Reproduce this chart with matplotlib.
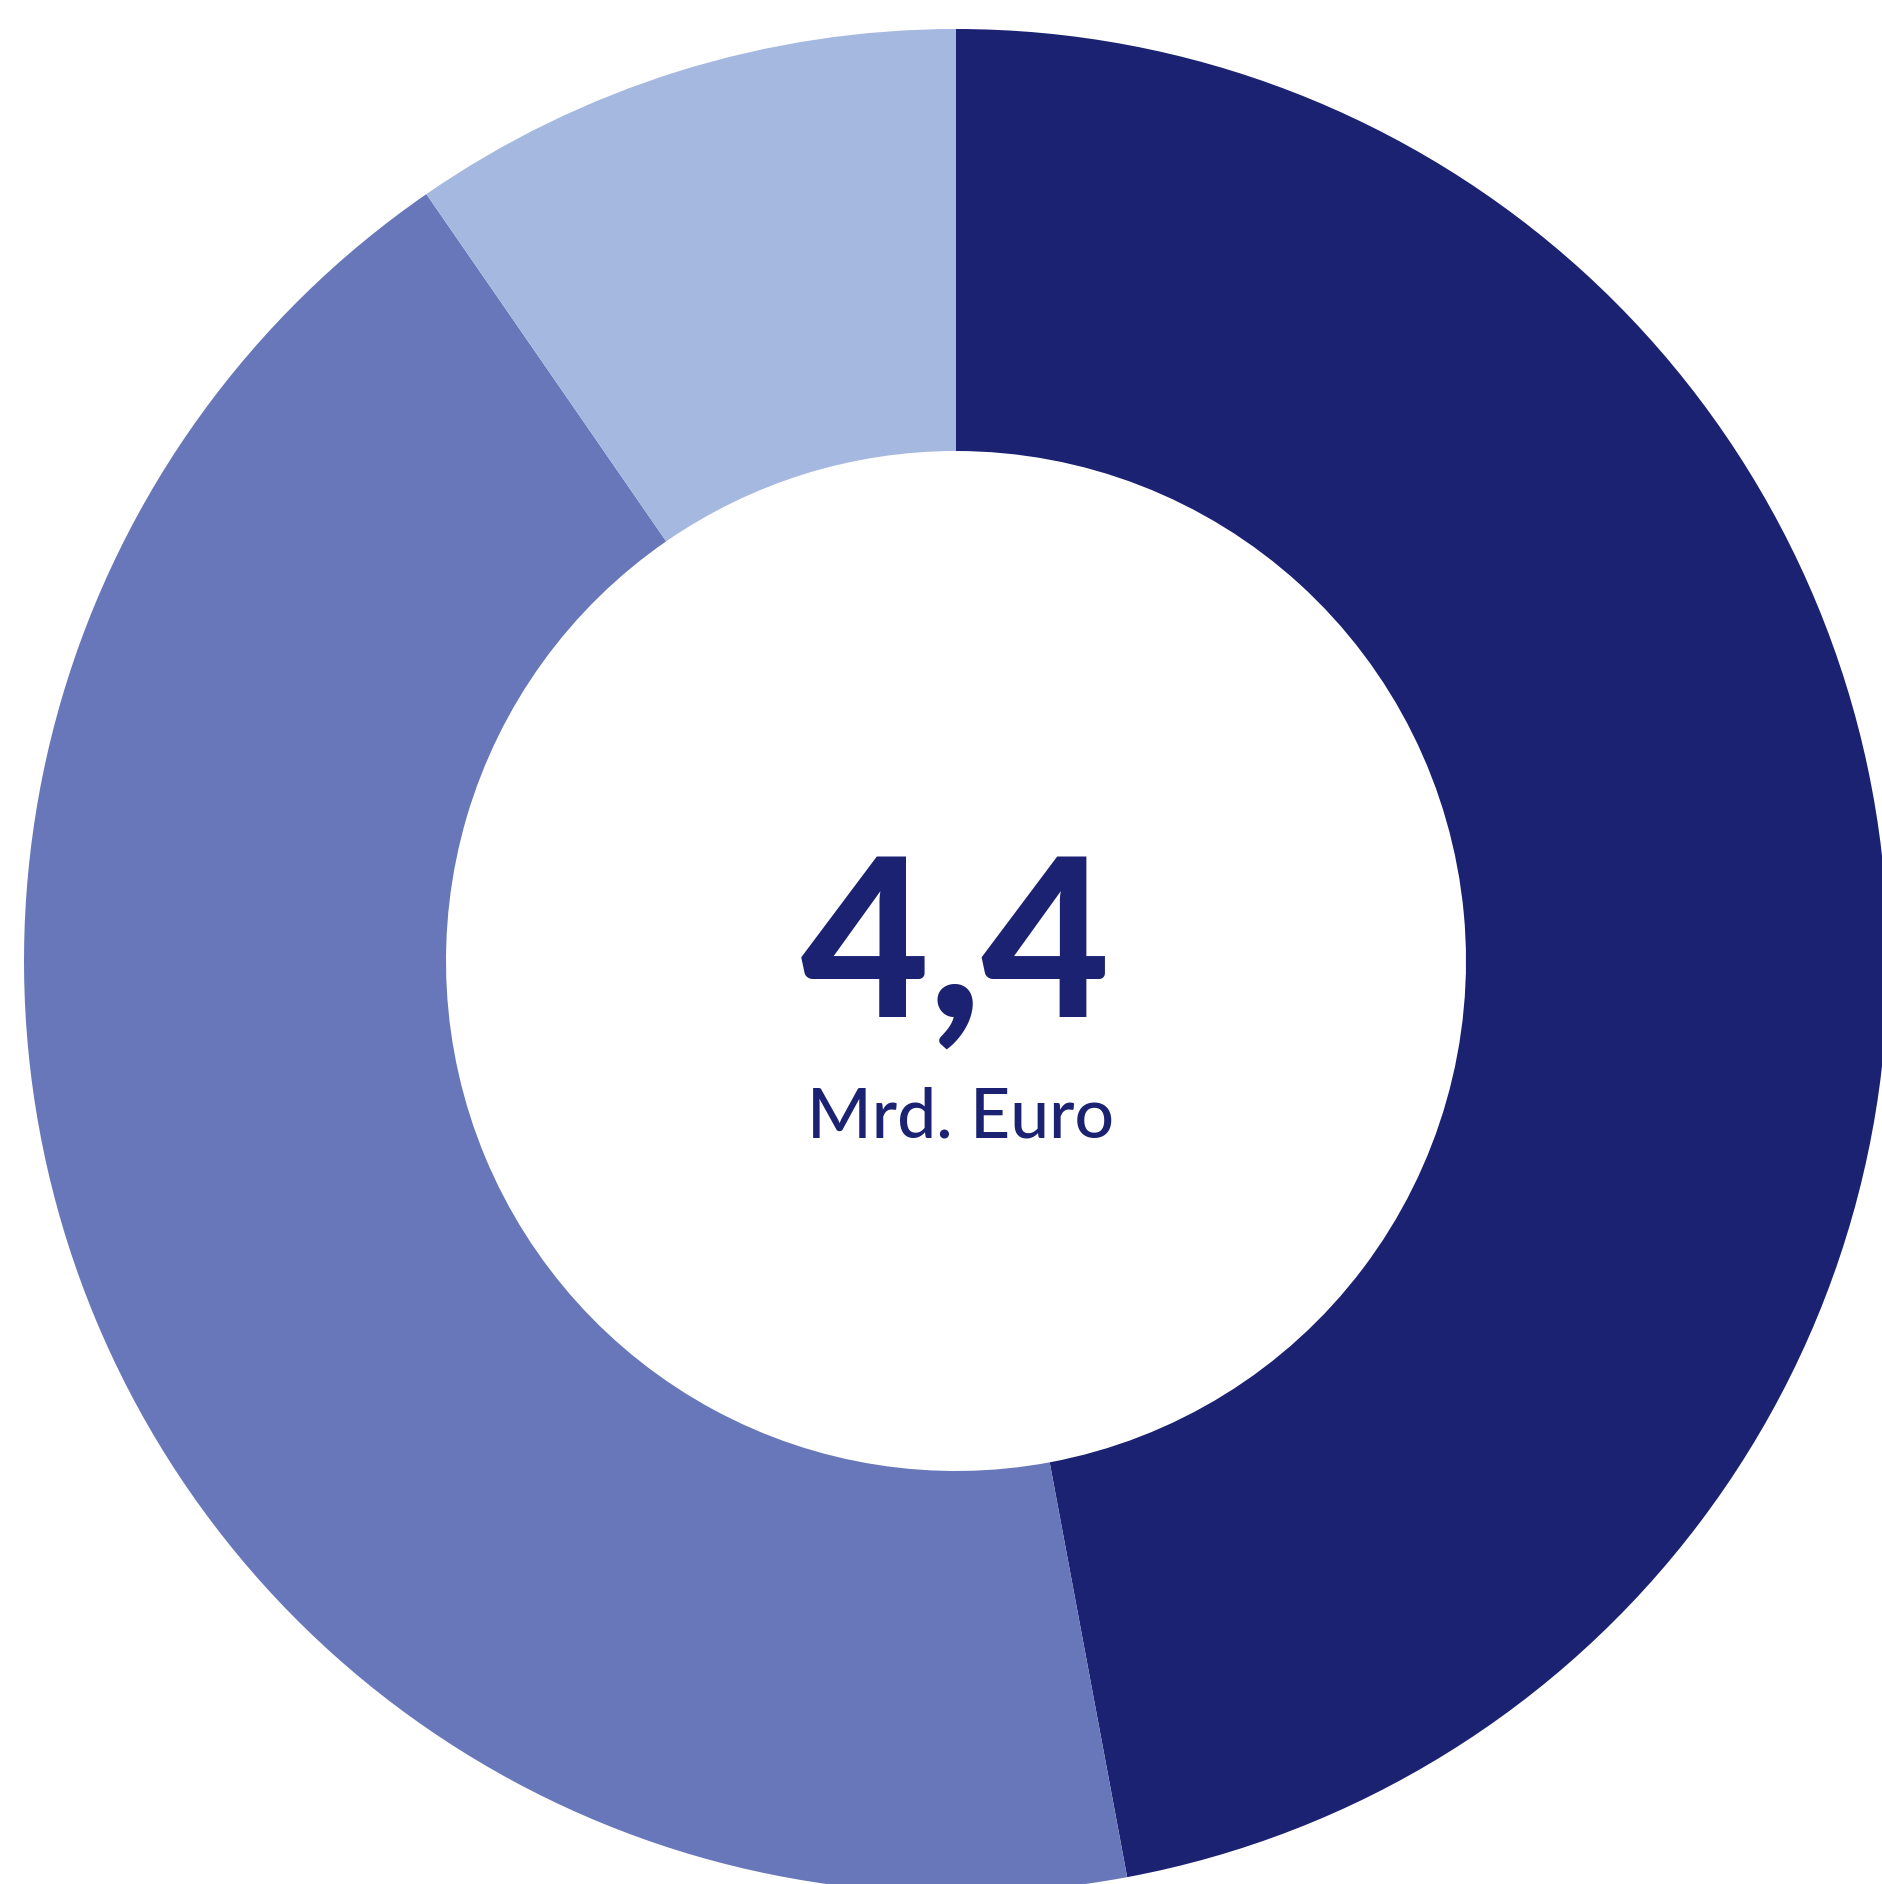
import matplotlib.pyplot as plt

labels = ['A', 'B', 'C']
shares = [47.06, 43.32, 9.62]
colors = ['#1B2272', '#6877B9', '#A5B8DF']

total_text = '4,4'
unit_text = 'Mrd. Euro'

W, H = 1883, 1884
cx, cy, R = 956, 961, 932  # ring centre and outer radius in pixels

fig = plt.figure(figsize=(W / 100, H / 100), dpi=100)
ax = fig.add_axes([0, 0, 1, 1])

ax.pie(shares, colors=colors, startangle=90, counterclock=False,
       radius=1.0, wedgeprops=dict(width=1 - 510 / R, linewidth=0))

ax.set_xlim(-cx / R, (W - cx) / R)
ax.set_ylim(-(H - cy) / R, cy / R)
ax.set_aspect('equal')
ax.axis('off')

navy = '#1B2272'
ax.text(0.0, (cy - 1017) / R, total_text, ha='center', va='baseline',
        fontsize=160, fontweight='black', family=['Lato', 'DejaVu Sans'], color=navy)
ax.text(0.005, (cy - 1138) / R, unit_text, ha='center', va='baseline',
        fontsize=50, fontweight='medium', family=['Lato', 'DejaVu Sans'], color=navy)

fig.savefig('out.png', dpi=100, facecolor='white')
